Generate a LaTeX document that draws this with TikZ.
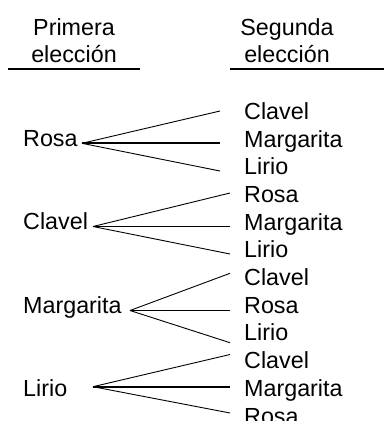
\documentclass[tikz,border=0pt]{standalone}
\usepackage{fontspec}
\setmainfont{Liberation Sans}

\begin{document}
\begin{tikzpicture}[
  x=1pt, y=-1pt,
  every node/.style={inner sep=0pt, font=\fontsize{23.3}{27}\selectfont},
  word/.style={anchor=base west},
  head/.style={align=center, anchor=base},
  branch/.style={line width=0.9pt},
  middle/.style={line width=1.8pt},
  rule/.style={line width=2pt}
]
\useasboundingbox (0,0) rectangle (384,421);
\clip (0,0) rectangle (384,421);

\node[head] (primera) at (74,62) {Primera\\elección};
\node[head] (segunda) at (287,62) {Segunda\\elección};
\draw[rule] (8,68.5) -- (139.5,68.5);
\draw[rule] (230,68.5) -- (384,68.5);

\node[word] (rosa) at (23,146.7) {Rosa};
\node[word] (clavel) at (23,229.5) {Clavel};
\node[word] (margarita) at (23,313.3) {Margarita};
\node[word] (lirio) at (23,396.5) {Lirio};

\node[word] (rosa-clavel) at (244,119.3) {Clavel};
\node[word] (rosa-margarita) at (244,147) {Margarita};
\node[word] (rosa-lirio) at (244,174.7) {Lirio};
\node[word] (clavel-rosa) at (244,202.4) {Rosa};
\node[word] (clavel-margarita) at (244,230.1) {Margarita};
\node[word] (clavel-lirio) at (244,257.8) {Lirio};
\node[word] (margarita-clavel) at (244,285.5) {Clavel};
\node[word] (margarita-rosa) at (244,313.2) {Rosa};
\node[word] (margarita-lirio) at (244,340.9) {Lirio};
\node[word] (lirio-clavel) at (244,368.6) {Clavel};
\node[word] (lirio-margarita) at (244,396.3) {Margarita};
\node[word] (lirio-rosa) at (244,424) {Rosa};

\coordinate (r0) at (82,143.3);
\coordinate (r1) at (220,111);
\coordinate (r2) at (220,143.3);
\coordinate (r3) at (220,171);
\coordinate (c0) at (93,226.5);
\coordinate (c1) at (230,193);
\coordinate (c2) at (230,226.5);
\coordinate (c3) at (230,254);
\coordinate (m0) at (130,310.5);
\coordinate (m1) at (230,273.3);
\coordinate (m2) at (230,310.5);
\coordinate (m3) at (230,342.7);
\coordinate (l0) at (93,386.7);
\coordinate (l1) at (230,354.5);
\coordinate (l2) at (230,386.7);
\coordinate (l3) at (230,413);

\draw[branch] (r0) -- (r1);
\draw[middle] (r0) -- (r2);
\draw[branch] (r0) -- (r3);
\draw[branch] (c0) -- (c1);
\draw[middle] (c0) -- (c2);
\draw[branch] (c0) -- (c3);
\draw[branch] (m0) -- (m1);
\draw[middle] (m0) -- (m2);
\draw[branch] (m0) -- (m3);
\draw[branch] (l0) -- (l1);
\draw[middle] (l0) -- (l2);
\draw[branch] (l0) -- (l3);

\end{tikzpicture}
\end{document}
